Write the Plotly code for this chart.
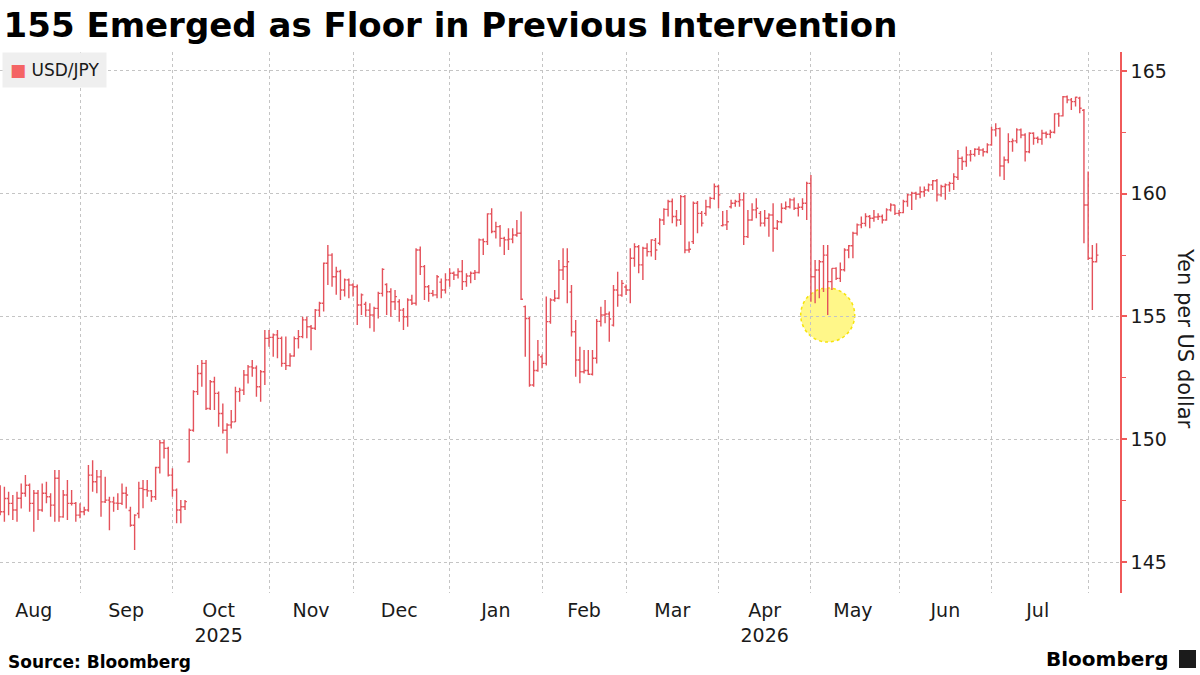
import pandas as pd
import plotly.graph_objects as go

# ---------------- data (USD/JPY daily OHLC) ----------------
start_date = "2025-08-05"

open_prices = [
    147.50, 147.05, 147.59, 147.39, 147.12, 147.60, 147.80, 148.13, 147.39, 147.80,
    147.12, 147.80, 147.66, 147.32, 148.41, 146.84, 147.73, 147.39, 147.39, 146.91,
    147.05, 147.12, 148.54, 148.27, 148.47, 147.45, 147.52, 147.45, 147.40, 147.39,
    147.80, 147.10, 146.50, 146.98, 148.00, 147.95, 147.90, 147.66, 148.85, 149.86,
    149.63, 148.54, 147.93, 147.12, 147.25, 149.08, 150.37, 151.94, 152.68, 153.09,
    151.25, 152.34, 151.87, 151.05, 150.37, 150.58, 150.71, 151.94, 152.00, 152.62,
    152.95, 152.90, 152.14, 152.75, 154.11, 154.15, 154.25, 154.11, 153.09, 153.00,
    153.39, 154.10, 154.18, 154.86, 154.58, 154.52, 155.26, 155.54, 157.17, 157.50,
    156.62, 156.83, 156.08, 156.49, 156.28, 156.21, 155.47, 155.50, 155.26, 155.06,
    155.33, 155.94, 156.30, 156.01, 155.60, 155.60, 155.26, 154.99, 155.67, 155.54,
    157.71, 157.03, 156.21, 155.94, 155.88, 156.40, 156.08, 156.49, 156.76, 156.69,
    156.83, 156.42, 156.65, 156.76, 156.79, 158.12, 158.05, 159.18, 158.46, 158.66,
    158.18, 158.12, 158.15, 158.32, 158.39, 155.40, 154.92, 152.21, 152.80, 153.36,
    153.09, 154.79, 155.67, 155.74, 156.89, 157.03, 156.00, 154.38, 153.23, 152.75,
    152.80, 152.65, 153.30, 154.80, 155.06, 155.10, 154.65, 156.08, 155.87, 156.20,
    156.08, 157.37, 157.84, 157.10, 157.78, 157.64, 158.10, 157.98, 158.93, 159.36,
    159.68, 159.07, 158.93, 159.88, 157.71, 158.05, 159.61, 159.20, 159.20, 159.47,
    159.81, 160.29, 158.70, 158.73, 159.47, 159.61, 159.68, 159.75, 158.25, 158.93,
    159.34, 159.20, 158.80, 159.00, 159.13, 158.59, 158.86, 159.41, 159.47, 159.75,
    159.41, 159.45, 159.61, 160.42, 156.62, 156.89, 157.23, 157.50, 156.42, 156.96,
    156.55, 156.90, 157.71, 157.88, 158.39, 158.73, 158.79, 159.07, 159.00, 159.05,
    159.07, 158.93, 159.34, 159.54, 159.20, 159.23, 159.68, 159.95, 160.02, 159.98,
    160.08, 160.15, 160.36, 160.53, 159.95, 160.29, 160.36, 160.42, 160.67, 161.44,
    161.31, 161.58, 161.60, 161.81, 161.78, 161.71, 161.99, 162.60, 162.65, 161.13,
    161.37, 162.12, 162.15, 162.60, 162.39, 161.71, 162.46, 162.26, 162.22, 162.46,
    162.42, 162.50, 163.25, 163.17, 163.95, 163.82, 163.75, 163.89, 163.40, 159.54,
    157.37, 157.23,
]

high_prices = [
    148.13, 148.07, 147.86, 147.73, 147.86, 148.20, 148.54, 148.20, 147.93, 147.93,
    148.20, 148.27, 147.80, 148.75, 148.75, 147.93, 148.34, 147.93, 147.45, 147.39,
    147.25, 148.95, 149.15, 148.75, 148.75, 148.47, 147.66, 147.66, 147.80, 148.20,
    148.07, 147.25, 146.95, 148.27, 148.34, 148.34, 147.93, 148.88, 149.97, 149.97,
    149.70, 148.82, 148.00, 147.53, 147.53, 150.44, 152.00, 153.02, 153.23, 153.23,
    152.41, 152.55, 151.95, 151.46, 150.65, 151.19, 152.14, 152.10, 152.82, 153.02,
    153.23, 153.00, 152.82, 154.45, 154.45, 154.31, 154.45, 154.18, 154.18, 153.50,
    154.18, 154.45, 154.99, 154.99, 154.65, 155.30, 155.60, 157.20, 157.91, 157.57,
    157.03, 156.90, 156.55, 156.55, 156.35, 156.30, 155.94, 155.60, 155.54, 155.40,
    156.01, 156.96, 156.35, 156.15, 156.08, 155.70, 155.35, 155.74, 155.88, 157.78,
    157.85, 157.10, 156.28, 156.08, 156.69, 156.55, 156.76, 156.96, 156.83, 156.96,
    157.30, 156.76, 156.83, 156.89, 158.18, 158.18, 159.20, 159.41, 158.86, 158.73,
    158.25, 158.59, 158.59, 158.93, 159.27, 155.45, 154.99, 153.20, 154.04, 153.45,
    155.81, 155.74, 156.08, 157.30, 157.78, 157.78, 156.28, 154.86, 153.77, 153.64,
    153.64, 153.64, 154.90, 155.40, 155.67, 155.20, 156.28, 156.82, 156.49, 156.30,
    157.78, 157.98, 157.91, 157.84, 157.98, 158.15, 158.20, 159.00, 159.41, 159.75,
    159.80, 159.34, 159.95, 159.95, 158.05, 159.68, 159.70, 159.30, 159.75, 159.88,
    160.42, 160.35, 159.30, 159.34, 159.75, 159.75, 160.02, 160.05, 159.34, 159.61,
    159.81, 159.30, 159.34, 159.20, 159.61, 158.93, 159.61, 159.68, 159.81, 159.85,
    159.61, 159.81, 160.49, 160.76, 157.30, 157.30, 157.91, 157.91, 156.96, 157.00,
    157.20, 157.78, 157.91, 158.45, 158.79, 159.07, 159.20, 159.13, 159.34, 159.20,
    159.15, 159.41, 159.61, 159.55, 159.34, 159.75, 160.00, 160.08, 160.08, 160.29,
    160.29, 160.42, 160.56, 160.60, 160.36, 160.42, 160.49, 160.83, 161.78, 161.51,
    161.92, 161.78, 161.85, 161.92, 161.85, 162.05, 162.73, 162.87, 162.70, 161.51,
    162.46, 162.25, 162.66, 162.65, 162.46, 162.50, 162.50, 162.33, 162.60, 162.53,
    162.60, 163.28, 163.30, 163.98, 164.00, 163.90, 163.95, 163.95, 163.45, 160.90,
    157.91, 157.98,
]

low_prices = [
    146.91, 146.64, 146.91, 146.71, 146.64, 147.18, 147.66, 147.05, 146.23, 146.71,
    147.05, 147.39, 146.84, 146.64, 146.64, 146.80, 146.71, 147.30, 146.64, 146.78,
    146.91, 147.05, 147.86, 147.80, 146.84, 147.40, 146.30, 147.05, 147.12, 147.32,
    147.18, 146.44, 145.49, 146.78, 147.19, 147.66, 147.46, 147.53, 148.61, 149.22,
    148.48, 147.66, 146.58, 146.58, 147.12, 149.05, 150.31, 151.80, 152.14, 151.19,
    151.19, 151.19, 150.51, 150.24, 149.42, 150.44, 150.70, 151.53, 151.80, 152.27,
    152.55, 151.73, 151.53, 152.21, 153.77, 153.36, 153.30, 152.95, 152.82, 152.95,
    153.36, 153.70, 154.11, 154.11, 153.63, 154.45, 154.99, 155.20, 156.28, 156.21,
    155.88, 155.67, 155.81, 155.74, 155.81, 154.65, 155.06, 154.99, 154.52, 154.38,
    154.92, 155.81, 155.06, 154.99, 155.26, 154.79, 154.45, 154.58, 155.47, 155.45,
    156.69, 155.67, 155.60, 155.81, 155.74, 155.74, 155.94, 156.21, 156.49, 156.55,
    156.08, 156.21, 156.35, 156.49, 156.75, 157.50, 157.91, 158.39, 158.18, 157.84,
    157.50, 157.71, 157.98, 158.25, 155.67, 153.36, 152.14, 152.14, 152.75, 152.89,
    153.00, 154.70, 155.60, 155.70, 156.49, 155.54, 154.18, 152.55, 152.28, 152.68,
    152.62, 152.60, 153.09, 154.59, 154.72, 153.97, 154.59, 155.40, 155.80, 155.87,
    155.54, 157.03, 156.76, 156.49, 157.44, 157.44, 157.30, 157.90, 158.73, 159.07,
    158.80, 158.66, 158.73, 157.57, 157.60, 157.95, 158.39, 158.66, 159.10, 159.40,
    159.75, 159.41, 158.66, 158.52, 159.40, 159.47, 159.47, 157.91, 158.20, 158.90,
    159.00, 158.66, 158.66, 158.25, 157.64, 158.52, 158.80, 159.35, 159.40, 159.34,
    159.07, 159.34, 158.93, 155.60, 155.54, 155.74, 156.00, 155.06, 156.08, 156.49,
    156.40, 156.83, 157.37, 157.37, 158.30, 158.59, 158.66, 158.59, 158.86, 158.93,
    158.79, 158.90, 159.27, 159.13, 159.10, 159.20, 159.47, 159.34, 159.75, 159.81,
    159.88, 160.08, 160.15, 159.68, 159.88, 159.75, 160.08, 160.15, 160.56, 160.97,
    161.10, 161.31, 161.51, 161.58, 161.51, 161.65, 161.95, 162.33, 160.70, 160.56,
    161.24, 161.71, 162.05, 162.26, 161.31, 161.65, 161.99, 162.05, 161.99, 162.26,
    162.26, 162.45, 162.73, 163.14, 163.68, 163.41, 163.55, 163.28, 157.98, 157.30,
    155.26, 157.20,
]

close_prices = [
    147.05, 147.59, 147.39, 147.12, 147.60, 147.80, 148.13, 147.39, 147.80, 147.12,
    147.80, 147.66, 147.32, 148.41, 146.84, 147.73, 147.39, 147.39, 146.91, 147.05,
    147.12, 148.54, 148.27, 148.47, 147.45, 147.52, 147.45, 147.40, 147.39, 147.80,
    147.73, 146.50, 146.91, 148.00, 147.95, 147.90, 147.66, 148.85, 149.86, 149.63,
    148.54, 147.93, 147.12, 147.25, 147.46, 150.37, 151.94, 152.68, 153.09, 151.25,
    152.34, 151.87, 151.05, 150.37, 150.58, 150.71, 151.94, 152.00, 152.62, 152.95,
    152.90, 152.14, 152.75, 154.11, 154.15, 154.25, 154.11, 153.09, 153.00, 153.39,
    154.10, 154.18, 154.86, 154.58, 154.52, 155.26, 155.54, 157.17, 157.50, 156.62,
    156.83, 156.08, 156.49, 156.28, 156.21, 155.47, 155.88, 155.26, 155.06, 155.33,
    155.94, 156.92, 156.01, 155.60, 155.81, 155.26, 154.99, 155.67, 155.54, 157.71,
    157.03, 156.21, 155.94, 155.88, 156.62, 156.08, 156.49, 156.76, 156.69, 156.83,
    156.42, 156.65, 156.76, 156.79, 158.12, 158.05, 159.18, 158.46, 158.66, 158.18,
    158.12, 158.15, 158.32, 158.39, 155.70, 154.92, 152.21, 152.80, 153.43, 153.09,
    154.79, 155.67, 155.74, 156.89, 157.03, 157.23, 154.38, 153.23, 152.75, 152.80,
    152.65, 153.30, 154.80, 155.06, 155.10, 154.90, 156.08, 155.87, 156.35, 156.08,
    157.37, 157.84, 157.10, 157.78, 157.64, 158.12, 157.71, 158.93, 159.36, 159.68,
    159.07, 158.93, 159.88, 157.71, 157.74, 159.61, 159.20, 158.80, 159.47, 159.81,
    160.29, 159.95, 158.73, 158.86, 159.61, 159.68, 159.75, 158.25, 158.93, 159.34,
    159.41, 158.80, 159.00, 159.13, 158.59, 158.86, 159.41, 159.47, 159.75, 159.41,
    159.45, 159.61, 160.42, 156.62, 156.89, 157.23, 157.50, 156.42, 156.96, 156.55,
    156.90, 157.71, 157.88, 158.39, 158.73, 158.79, 159.07, 159.00, 159.05, 159.07,
    158.93, 159.34, 159.54, 159.20, 159.23, 159.68, 159.95, 160.02, 159.98, 160.08,
    160.15, 160.36, 160.53, 159.95, 160.29, 160.36, 160.42, 160.69, 161.44, 161.31,
    161.58, 161.60, 161.81, 161.78, 161.71, 161.99, 162.60, 162.65, 161.13, 161.37,
    162.12, 162.15, 162.60, 162.39, 161.71, 162.46, 162.26, 162.22, 162.46, 162.42,
    162.50, 163.25, 163.17, 163.95, 163.82, 163.75, 163.93, 163.48, 159.54, 157.37,
    157.23, 157.50,
]

series_name = "USD/JPY"
month_labels = ["Aug", "Sep", "Oct<br>2025", "Nov", "Dec", "Jan", "Feb", "Mar",
                "Apr<br>2026", "May", "Jun", "Jul"]
y_ticks = [145, 150, 155, 160, 165]
y_minor_ticks = [147.5, 152.5, 157.5, 162.5]
highlight_month = "2026-05"

# ---------------- derived helpers ----------------
n = len(close_prices)
assert len(open_prices) == n and len(high_prices) == n and len(low_prices) == n
dates = pd.bdate_range(start=start_date, periods=n)

months = pd.period_range("2025-08", "2026-07", freq="M")
label_dates, grid_dates = [], []
for p in months:
    bd = pd.bdate_range(p.start_time, p.end_time)
    label_dates.append(bd[len(bd) // 2])
for p in pd.period_range("2025-09", "2026-08", freq="M"):
    grid_dates.append(pd.bdate_range(p.start_time, p.end_time)[0])

# focus bar (lowest low in the highlighted month)
s_low = pd.Series(low_prices, index=dates)
focus_day = s_low[highlight_month].idxmin()
focus_val = s_low[highlight_month].min()

BAR = "#e4525b"
AXIS_RED = "#f05a5a"
GRID = "#c4c4c4"
FONT = "DejaVu Sans"

# plot area in pixels: x 0..1120, y 52..593
PW, PT, PB = 1120, 52, 593
PH = PB - PT


def px(x):
    return x / PW


def py(y):
    return (PB - y) / PH


fig = go.Figure()
fig.add_trace(go.Ohlc(
    x=dates, open=open_prices, high=high_prices, low=low_prices, close=close_prices,
    increasing=dict(line=dict(color=BAR, width=1.4)),
    decreasing=dict(line=dict(color=BAR, width=1.4)),
    tickwidth=0.45, showlegend=False, name=series_name,
))

# highlight circle around the floor
fig.add_shape(
    type="circle", xref="x", yref="y", xsizemode="pixel", ysizemode="pixel",
    xanchor=focus_day, yanchor=focus_val, x0=-27, x1=27, y0=-27, y1=27,
    fillcolor="rgba(255,240,40,0.55)",
    line=dict(color="rgba(245,225,0,0.95)", width=1.5, dash="dot"),
    layer="below",
)

# Bloomberg glyph block
fig.add_shape(type="rect", xref="paper", yref="paper",
              x0=px(1179), x1=px(1196), y0=py(668), y1=py(650),
              fillcolor="#1b1b1b", line=dict(width=0))

fig.update_layout(
    width=1200, height=675,
    margin=dict(l=0, r=80, t=52, b=82),
    paper_bgcolor="white", plot_bgcolor="white",
    font=dict(family=FONT, color="#1a1a1a"),
    title=dict(text="<b>155 Emerged as Floor in Previous Intervention</b>",
               font=dict(family=FONT, size=34, color="#000000"),
               x=0.003, xanchor="left", xref="container",
               y=1 - 25 / 675, yanchor="middle", yref="container"),
    showlegend=False,
    xaxis=dict(
        type="date",
        range=["2025-08-04 22:50", "2026-08-12 14:00"],
        rangebreaks=[dict(bounds=["sat", "mon"])],
        tickmode="array", tickvals=label_dates, ticktext=month_labels,
        ticks="", showgrid=False, showline=False, zeroline=False,
        ticklabelstandoff=4,
        tickfont=dict(family=FONT, size=19, color="#1a1a1a"),
        minor=dict(tickmode="array", tickvals=grid_dates, showgrid=True,
                   gridcolor=GRID, griddash="dot", gridwidth=1, ticks=""),
        rangeslider=dict(visible=False),
    ),
    yaxis=dict(
        side="right", range=[143.74, 165.77],
        tickmode="array", tickvals=y_ticks,
        showgrid=True, gridcolor=GRID, griddash="dot", gridwidth=1,
        showline=True, linecolor=AXIS_RED, linewidth=1.5,
        ticks="outside", ticklen=5, tickwidth=2, tickcolor=AXIS_RED,
        minor=dict(tickmode="array", tickvals=y_minor_ticks, ticks="outside",
                   ticklen=4, tickwidth=1, tickcolor=AXIS_RED, showgrid=False),
        zeroline=False,
        tickfont=dict(family=FONT, size=19, color="#1a1a1a"),
    ),
    annotations=[
        # legend box
        dict(text="<span style='color:#f46464'>■</span> " + series_name,
             xref="paper", yref="paper", x=px(2), y=py(52),
             xanchor="left", yanchor="top", showarrow=False, align="left",
             bgcolor="#efefef", borderpad=7,
             font=dict(family=FONT, size=17, color="#1a1a1a")),
        dict(text="Yen per US dollar", xref="paper", yref="paper",
             x=px(1185), y=py(338), xanchor="center", yanchor="middle",
             textangle=90, showarrow=False,
             font=dict(family=FONT, size=21, color="#1a1a1a")),
        dict(text="<b>Source: Bloomberg</b>", xref="paper", yref="paper",
             x=px(6), y=py(662), xanchor="left", yanchor="middle",
             showarrow=False, font=dict(family=FONT, size=17, color="#000000")),
        dict(text="<b>Bloomberg</b>", xref="paper", yref="paper",
             x=px(1170), y=py(659), xanchor="right", yanchor="middle",
             showarrow=False, font=dict(family=FONT, size=20, color="#000000")),
    ],
)

fig.write_html(
    "out.html",
    config={"displayModeBar": False},
    post_script="document.body.style.margin='0';document.body.style.overflow='hidden';",
)
